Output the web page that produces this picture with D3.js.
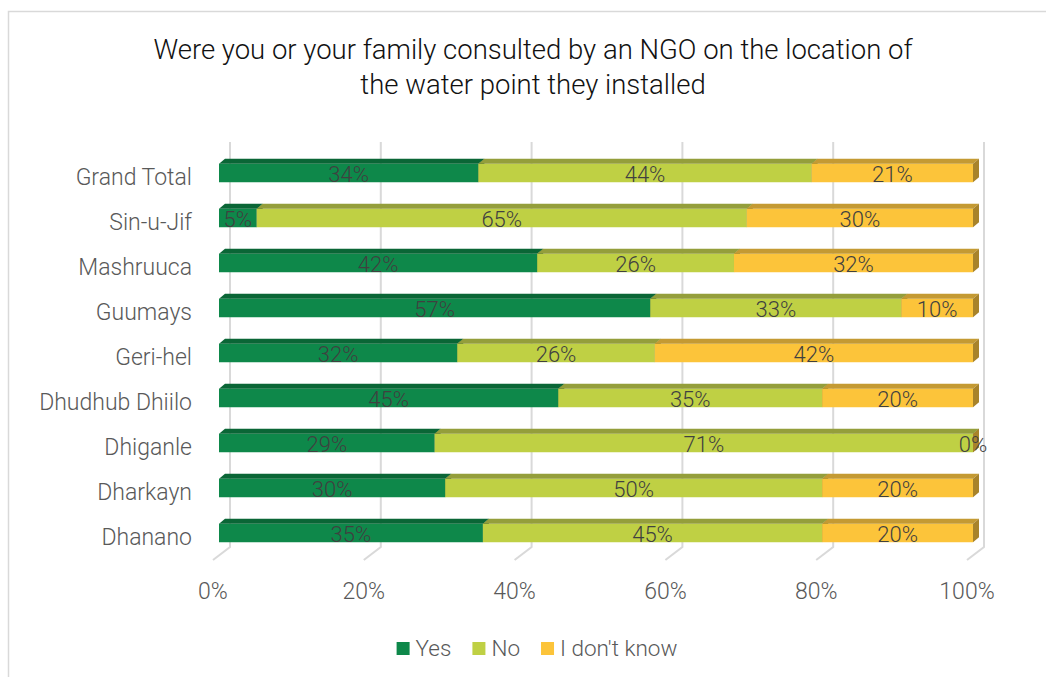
<!DOCTYPE html>
<html>
<head>
<meta charset="utf-8">
<script src="https://cdn.jsdelivr.net/npm/d3@7"></script>
<style>
  html, body { margin: 0; padding: 0; background: #fff; }
  svg { display: block; font-family: "Roboto", "Noto Sans", sans-serif; font-weight: 300; }
</style>
</head>
<body>
<svg id="chart" width="1046" height="677"></svg>
<script>
// Survey responses by location (share of households)
const categories = ["Grand Total", "Sin-u-Jif", "Mashruuca", "Guumays", "Geri-hel",
                    "Dhudhub Dhiilo", "Dhiganle", "Dharkayn", "Dhanano"];
const seriesNames = ["Yes", "No", "I don't know"];
const yesValues   = [34.4,  5.0, 42.2, 57.2, 31.6, 45.0, 28.6, 30.0, 35.0];
const noValues    = [44.2, 65.0, 26.1, 33.3, 26.2, 35.0, 71.4, 50.0, 45.0];
const dkValues    = [21.4, 30.0, 31.7,  9.5, 42.2, 20.0,  0.0, 20.0, 20.0];
const tickValues  = [0, 0.2, 0.4, 0.6, 0.8, 1.0];
const titleLines  = ["Were you or your family consulted by an NGO on the location of",
                     "the water point they installed"];

const colors = {
  "Yes":          { front: "#0E884A", top: "#0A6636", side: "#08552D" },
  "No":           { front: "#BFD044", top: "#949E3B", side: "#7F8A30" },
  "I don't know": { front: "#FCC43A", top: "#C49A33", side: "#A8832A" }
};

const svg = d3.select("#chart");

// Outer frame (clipped at right and bottom)
svg.append("path")
  .attr("d", "M8.5,677 V11.5 H1046")
  .attr("fill", "none").attr("stroke", "#D9D9D9").attr("stroke-width", 1.5);

// Title
svg.append("g").selectAll("text").data(titleLines).join("text")
  .attr("x", 533).attr("y", (d, i) => 59 + i * 35)
  .attr("text-anchor", "middle")
  .attr("font-size", 27.5).attr("fill", "#111")
  .text(d => d);

// Stack the series, normalised to 100%
const rows = categories.map((c, i) => {
  const total = yesValues[i] + noValues[i] + dkValues[i];
  return { cat: c, "Yes": yesValues[i] / total, "No": noValues[i] / total,
           "I don't know": dkValues[i] / total };
});
const stack = d3.stack().keys(seriesNames)(rows);

// Scales: x for the bar front plane; depth offsets for the floor and back wall
const x = d3.scaleLinear().domain([0, 1]).range([219, 973]);
const y = d3.scaleBand().domain(categories).range([150.5, 555.5])
  .paddingInner(0.589).paddingOuter(0.2945);
const depth = { dx: 6, dy: 5 };          // bar depth
const backOff = { dx: 11, dy: 8.5 };     // bar front -> back wall
const floorOff = { dx: -6, dy: -4.5 };   // bar front -> floor front edge
const wallTop = 142, wallBottom = 547;

// Gridlines on back wall and floor
const grid = svg.append("g");
tickValues.forEach(t => {
  const xb = x(t) + backOff.dx;
  const xf = x(t) + floorOff.dx;
  grid.append("path")
    .attr("d", `M${xb},${wallTop} V${wallBottom} L${xf},${wallBottom + 13}`)
    .attr("fill", "none").attr("stroke", "#D9D9D9").attr("stroke-width", 2);
});

// Bars as boxes: front face, top face, right side face
const bars = svg.append("g");
stack.forEach(layer => {
  const c = colors[layer.key];
  layer.forEach((seg, i) => {
    const x0 = x(seg[0]), x1 = x(seg[1]);
    const y0 = y(categories[i]), h = y.bandwidth();
    const g = bars.append("g");
    g.append("rect").attr("x", x0).attr("y", y0).attr("width", Math.max(0, x1 - x0)).attr("height", h)
      .attr("fill", c.front);
    g.append("path")
      .attr("d", `M${x0},${y0} L${x0 + depth.dx},${y0 - depth.dy} L${x1 + depth.dx},${y0 - depth.dy} L${x1},${y0} Z`)
      .attr("fill", c.top);
    g.append("path")
      .attr("d", `M${x1},${y0} L${x1 + depth.dx},${y0 - depth.dy} L${x1 + depth.dx},${y0 + h - depth.dy} L${x1},${y0 + h} Z`)
      .attr("fill", c.side);
  });
});

// Data labels
const fmt = d3.format(".0%");
const labels = svg.append("g");
stack.forEach(layer => {
  layer.forEach((seg, i) => {
    labels.append("text")
      .attr("x", (x(seg[0]) + x(seg[1])) / 2)
      .attr("y", y(categories[i]) + y.bandwidth() / 2 + 9)
      .attr("text-anchor", "middle")
      .attr("font-size", 22).attr("fill", "#404040")
      .text(fmt(seg.data[layer.key]));
  });
});

// Category axis labels
svg.append("g").selectAll("text").data(categories).join("text")
  .attr("x", 192).attr("y", d => y(d) + y.bandwidth() / 2 + 12)
  .attr("text-anchor", "end")
  .attr("font-size", 23).attr("fill", "#595959")
  .text(d => d);

// Value axis tick labels along the floor front edge
svg.append("g").selectAll("text").data(tickValues).join("text")
  .attr("x", t => x(t) + floorOff.dx)
  .attr("y", 599)
  .attr("text-anchor", "middle")
  .attr("font-size", 23).attr("fill", "#595959")
  .text(t => d3.format(".0%")(t));

// Legend
const legend = svg.append("g");
let lx = 0;
seriesNames.forEach(name => {
  const g = legend.append("g");
  g.append("rect").attr("x", 0).attr("y", 642).attr("width", 13).attr("height", 13)
    .attr("fill", colors[name].front);
  const t = g.append("text").attr("x", 19).attr("y", 656)
    .attr("font-size", 22.5).attr("fill", "#595959").text(name);
  const w = 19 + t.node().getComputedTextLength();
  g.attr("transform", `translate(${lx},0)`);
  lx += w + 21;
});
const legendWidth = lx - 21;
legend.attr("transform", `translate(${537 - legendWidth / 2},0)`);
</script>
</body>
</html>
